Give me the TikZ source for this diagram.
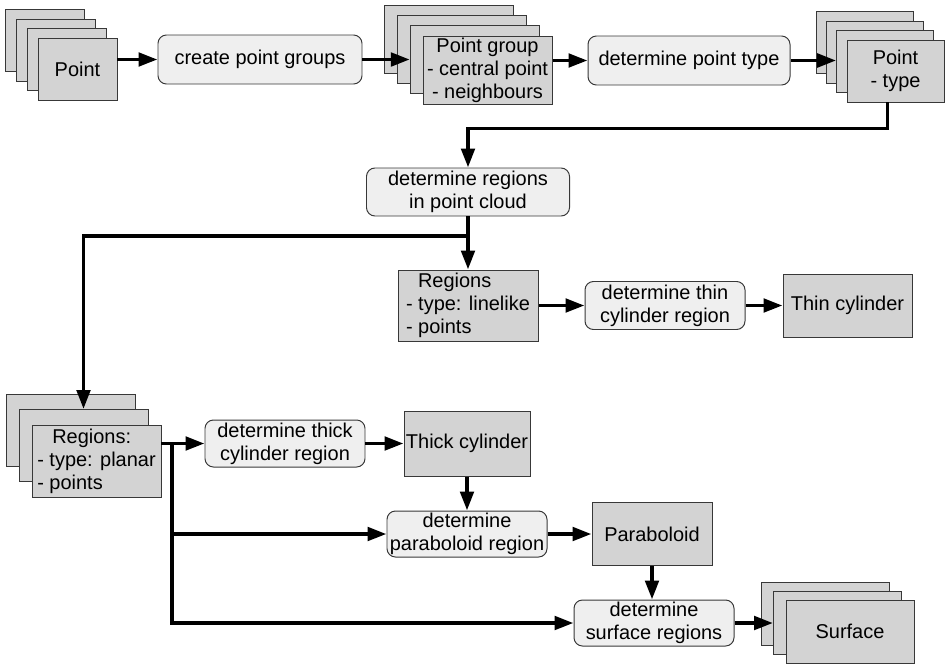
\documentclass[tikz,border=0pt]{standalone}
\usepackage{fontspec}
\setmainfont{Liberation Sans}
\usetikzlibrary{positioning, arrows.meta, calc}

\definecolor{datagray}{HTML}{D3D3D3}
\definecolor{procgray}{HTML}{EFEFEF}
\definecolor{edgegray}{HTML}{383838}
\newcommand{\pxu}{0.025cm}

\begin{document}
\begin{tikzpicture}[
    x=0.025cm, y=-0.025cm,
    every node/.style={font=\fontsize{14.2}{16.4}\selectfont, inner sep=0pt, draw=edgegray, line width=0.7pt},
    box/.style 2 args={minimum width=#1*\pxu, minimum height=#2*\pxu},
    process/.style={rounded corners=6pt, fill=procgray, align=center},
    data/.style={fill=datagray, align=center},
    flow/.style={line width=2.8pt, -{Triangle[length=13.5pt, width=9.5pt]}}
]
    \useasboundingbox (0,0) rectangle (945,665);

    % top row
    \foreach \i in {3,2,1}
        \node[data, box={79}{62}] (pt\i) at ([shift={(-10.7*\i,-9.5*\i)}]77.5,69) {};
    \node[data, box={79}{62}] (pt) at (77.5,69) {Point};
    \node[process, box={204}{49}] (create) at (260,59.5) {create point groups};
    \foreach \i in {3,2,1}
        \node[data, box={129}{68}] (pg\i) at ([shift={(-12.7*\i,-10.3*\i)}]487.5,70) {};
    \node[data, box={129}{68}] (pg) at (487.5,70) {Point group\\- central point\\- neighbours};
    \node[process, box={202}{49}] (dtype) at (689,60.5) {determine point type};
    \foreach \i in {3,2,1}
        \node[data, box={97}{62}] (ptp\i) at ([shift={(-10.3*\i,-9.5*\i)}]895.5,71) {};
    \node[data, box={97}{62}] (ptp) at (895.5,71) {Point\\- type};

    \draw[flow] (pt.east |- create.west) -- (create.west);
    \draw[flow] (create.east) -- (pg1.west |- create.east);
    \draw[flow] (pg.east |- dtype.west) -- (dtype.west);
    \draw[flow] (dtype.east) -- (ptp1.west |- dtype.east);

    % regions
    \node[process, box={203}{48}] (detreg) at (468,192) {determine regions\\in point cloud};
    \draw[flow] ([xshift=-8*\pxu]ptp.south) -- ++(0,26) -| (detreg.north);

    \node[data, box={140}{71}, align=left] (lin) at (468,305.5) {\hspace{0.6em}Regions\\- type: linelike\\- points};
    \node[process, box={160}{48}] (thinreg) at (665,305.5) {determine thin\\cylinder region};
    \node[data, box={129}{63}] (thincyl) at (847.5,305.5) {Thin cylinder};
    \coordinate (split1) at (detreg.south |- 0,236);
    \draw[flow] (detreg.south) -- (lin.north);
    \draw[flow] (lin.east) -- (thinreg.west);
    \draw[flow] (thinreg.east) -- (thincyl.west);

    % planar branch
    \foreach \i in {2,1}
        \node[data, box={129}{72}] (pl\i) at ([shift={(-13*\i,-15.5*\i)}]96.5,461) {};
    \node[data, box={129}{72}, align=left] (pl) at (96.5,461) {\hspace{0.75em}Regions:\\- type: planar\\- points};
    \draw[flow] (split1) -| (pl1.north);

    \node[process, box={160}{47}] (thick) at (285,443.5) {determine thick\\cylinder region};
    \node[data, box={126}{65}] (thickcyl) at (467,443.5) {Thick cylinder};
    \node[process, box={160}{46}] (parreg) at (467,534) {determine\\paraboloid region};
    \node[data, box={120}{63}] (parab) at (652,534) {Paraboloid};
    \node[process, box={160}{46}] (surfreg) at (654,623) {determine\\surface regions};
    \foreach \i in {2,1}
        \node[data, box={128}{63}] (surf\i) at ([shift={(-12.5*\i,-9*\i)}]850,631.5) {};
    \node[data, box={128}{63}] (surf) at (850,631.5) {Surface};

    \coordinate (split2) at (172,0 |- thick.west);
    \draw[flow] (pl.east |- thick.west) -- (thick.west);
    \draw[flow] (split2) |- (parreg.west);
    \draw[flow] (split2) |- (surfreg.west);
    \draw[flow] (thick.east) -- (thickcyl.west);
    \draw[flow] (thickcyl.south) -- (parreg.north);
    \draw[flow] (parreg.east) -- (parab.west);
    \draw[flow] (parab.south) -- (parab.south |- surfreg.north);
    \draw[flow] (surfreg.east) -- (surf1.west |- surfreg.east);
\end{tikzpicture}
\end{document}
